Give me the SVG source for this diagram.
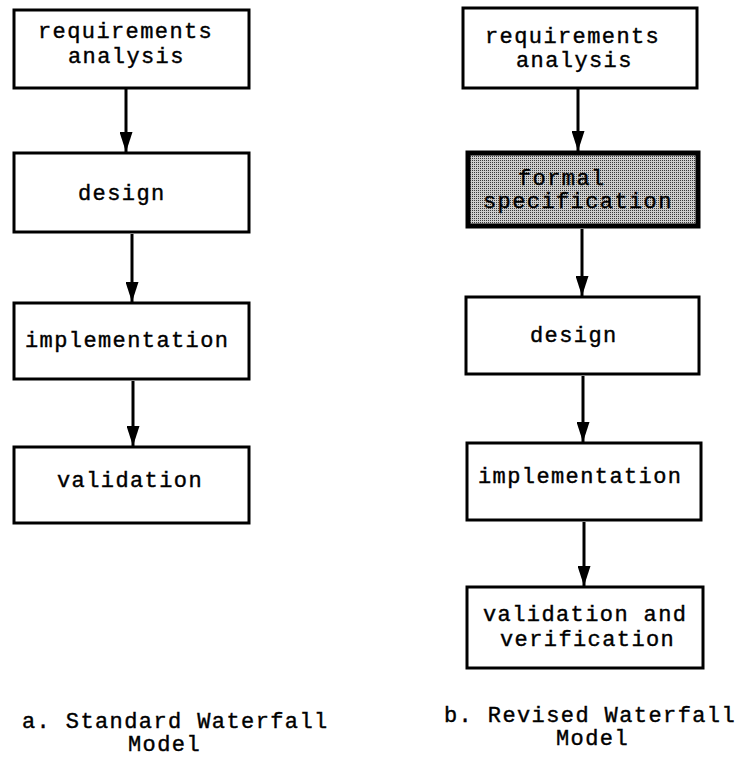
<svg xmlns="http://www.w3.org/2000/svg" width="744" height="784" viewBox="0 0 744 784">
<defs>
<pattern id="dither" width="2" height="2" patternUnits="userSpaceOnUse">
<rect width="2" height="2" fill="#cdcdcd"/>
<rect width="1" height="1" fill="#3a3a3a"/>
</pattern>
<marker id="arr" markerWidth="20" markerHeight="13" refX="20" refY="6.5" orient="auto" markerUnits="userSpaceOnUse" viewBox="0 0 20 13">
<path d="M0,0 L20,6.5 L0,13 Z" fill="#000"/>
</marker>
</defs>
<style>
.box{fill:#fff;stroke:#000;stroke-width:3}
.spec{fill:url(#dither);stroke:#000;stroke-width:5}
.t{font-family:"Liberation Mono","Courier New",monospace;font-size:22px;letter-spacing:1.4px;fill:#000;stroke:#000;stroke-width:0.4}
.c line{stroke:#000;stroke-width:3}
</style>
<rect width="744" height="784" fill="#fff"/>

<g id="a-req"><rect class="box" x="14" y="10" width="235" height="78"/>
<text class="t" x="38" y="38">requirements</text><text class="t" x="68" y="63">analysis</text></g>
<g id="a-design"><rect class="box" x="14" y="153" width="235" height="79"/>
<text class="t" x="78" y="200">design</text></g>
<g id="a-impl"><rect class="box" x="14" y="303" width="235" height="76"/>
<text class="t" x="25" y="347">implementation</text></g>
<g id="a-val"><rect class="box" x="14" y="447" width="235" height="76"/>
<text class="t" x="57" y="487">validation</text></g>

<g id="b-req"><rect class="box" x="463" y="8" width="234" height="80"/>
<text class="t" x="485" y="43">requirements</text><text class="t" x="516" y="67">analysis</text></g>
<g id="b-spec"><rect class="spec" x="468" y="153" width="230" height="73"/>
<text class="t" x="518" y="185">formal</text><text class="t" x="483" y="208">specification</text></g>
<g id="b-design"><rect class="box" x="466" y="297" width="233" height="77"/>
<text class="t" x="530" y="342">design</text></g>
<g id="b-impl"><rect class="box" x="467" y="443" width="234" height="77"/>
<text class="t" x="478" y="483">implementation</text></g>
<g id="b-vv"><rect class="box" x="467" y="587" width="236" height="81"/>
<text class="t" x="483" y="621">validation and</text><text class="t" x="500" y="646">verification</text></g>

<g id="captions">
<text class="t" x="22" y="728">a. Standard Waterfall</text>
<text class="t" x="128" y="751">Model</text>
<text class="t" x="444" y="722">b. Revised Waterfall</text>
<text class="t" x="556" y="745">Model</text>
</g>

<g id="connectors" class="c">
<line x1="126" y1="89" x2="126" y2="152" marker-end="url(#arr)"/>
<line x1="132" y1="234" x2="132" y2="302" marker-end="url(#arr)"/>
<line x1="133" y1="381" x2="133" y2="446" marker-end="url(#arr)"/>
<line x1="578" y1="89" x2="578" y2="151" marker-end="url(#arr)"/>
<line x1="582" y1="229" x2="582" y2="296" marker-end="url(#arr)"/>
<line x1="583" y1="376" x2="583" y2="442" marker-end="url(#arr)"/>
<line x1="584" y1="522" x2="584" y2="586" marker-end="url(#arr)"/>
</g>
</svg>
